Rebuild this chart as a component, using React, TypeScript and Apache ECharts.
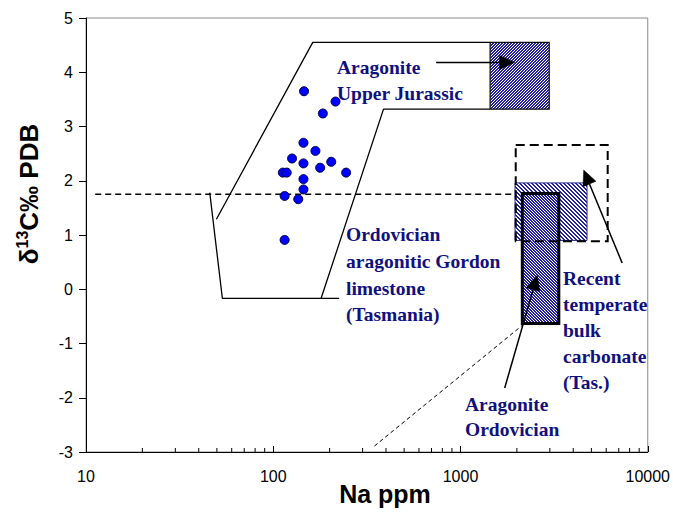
import React, { useEffect, useRef } from 'react';
import * as echarts from 'echarts';

// ---- data ----
const X_TICK_LABELS = ['10', '100', '1000', '10000'];
const MINOR_TICKS = [20, 30, 40, 50, 60, 70, 80, 90, 200, 300, 400, 500, 600, 700, 800, 900, 2000, 3000, 4000, 5000, 6000, 7000, 8000, 9000];
const Y_TICKS = [-3, -2, -1, 0, 1, 2, 3, 4, 5];

const SAMPLES: [number, number][] = [
  [146, 3.65], [184, 3.24], [215, 3.46], [145, 2.70], [168, 2.55], [126, 2.41],
  [145, 2.32], [178, 2.24], [204, 2.35], [245, 2.15], [112.5, 2.15], [118, 2.15],
  [145, 2.03], [145, 1.84], [115, 1.72], [136, 1.66], [115, 0.91],
];

const GORDON_UPPER: [number, number][] = [[49.7, 1.29], [162.5, 4.55], [1439, 4.55]];
const GORDON_RIGHT: [number, number][] = [[1439, 3.32], [388, 3.32], [180, -0.17]];
const GORDON_LEFT: [number, number][] = [[45.8, 1.78], [53.5, -0.17], [225, -0.17]];
const REF_LINE: [number, number][] = [[11.2, 1.75], [1932, 1.75]];
const TREND_LINE: [number, number][] = [[347, -2.89], [2163, -0.651]];

const JURASSIC_BOX = [1439, 3.32, 2978, 4.55];
const RECENT_BOX = [1955, 0.90, 4740, 1.96];
const ORDOVICIAN_BOX = [2138, -0.633, 3350, 1.766];
const RECENT_RANGE_BOX = [1972, 0.886, 6110, 2.66];

const ARROWS = [
  [741, 4.18, 1945, 4.18],
  [7300, 0.485, 4550, 2.196],
  [1722, -1.82, 2570, 0.258],
];

function makePattern(size: number, fg: string, bg: string, test: (x: number, y: number) => boolean) {
  const c = document.createElement('canvas');
  c.width = size;
  c.height = size;
  const ctx = c.getContext('2d')!;
  ctx.fillStyle = bg;
  ctx.fillRect(0, 0, size, size);
  ctx.fillStyle = fg;
  for (let x = 0; x < size; x++) {
    for (let y = 0; y < size; y++) {
      if (test(x, y)) ctx.fillRect(x, y, 1, 1);
    }
  }
  return { image: c.toDataURL(), repeat: 'repeat', imageWidth: size, imageHeight: size } as any;
}

function rectSeries(box: number[], style: any, z: number) {
  return {
    type: 'custom',
    clip: true,
    silent: true,
    z,
    data: [box],
    renderItem: (_p: any, api: any) => {
      const a = api.coord([api.value(0), api.value(1)]);
      const b = api.coord([api.value(2), api.value(3)]);
      return {
        type: 'rect',
        shape: {
          x: Math.min(a[0], b[0]),
          y: Math.min(a[1], b[1]),
          width: Math.abs(b[0] - a[0]),
          height: Math.abs(b[1] - a[1]),
        },
        style,
      };
    },
  };
}

function lineSeries(data: [number, number][], width: number, type: any, z: number) {
  return {
    type: 'line',
    data,
    symbol: 'none',
    showSymbol: false,
    silent: true,
    z,
    lineStyle: { color: '#000', width, type },
  };
}

const App: React.FC = () => {
  const ref = useRef<HTMLDivElement>(null);

  useEffect(() => {
    if (!ref.current) return;
    const chart = echarts.init(ref.current, null, { renderer: 'svg' });

    const blue = '#24249e';
    const jurassicFill = makePattern(3, blue, '#ffffff', (x, y) => (x + y) % 3 !== 0);
    const recentFill = makePattern(4, blue, '#ffffff', (x, y) => (x - y + 8) % 4 < 2);
    const ordoFill = makePattern(3, blue, '#ffffff', (x, y) => (x - y + 6) % 3 !== 0);

    const labelFont = 'bold 19.5px "Liberation Serif", "Times New Roman", serif';
    const labelColor = '#10107e';
    const sans = '"Liberation Sans", Arial, sans-serif';

    chart.setOption({
      animation: false,
      backgroundColor: '#ffffff',
      grid: {
        left: 86, right: 24, top: 18, bottom: 61,
        show: true, borderColor: '#8a8a8a', borderWidth: 1, backgroundColor: 'transparent',
      },
      xAxis: {
        type: 'log',
        logBase: 10,
        min: 10,
        max: 10000,
        axisLine: { show: true, onZero: false, lineStyle: { color: '#000', width: 1 } },
        axisTick: { show: true, inside: true, length: 6, lineStyle: { color: '#000' } },
        splitLine: { show: false },
        axisLabel: {
          margin: 16,
          color: '#000',
          fontSize: 16,
          fontFamily: sans,
          formatter: (v: number) => {
            const i = Math.round(Math.log10(v)) - 1;
            return X_TICK_LABELS[i] ?? '';
          },
        },
      },
      yAxis: {
        type: 'value',
        min: Y_TICKS[0],
        max: Y_TICKS[Y_TICKS.length - 1],
        interval: 1,
        axisLine: { show: true, onZero: false, lineStyle: { color: '#000', width: 1 } },
        axisTick: { show: true, inside: false, length: 7, lineStyle: { color: '#000' } },
        splitLine: { show: false },
        axisLabel: {
          margin: 13,
          color: '#000',
          fontSize: 16,
          fontFamily: sans,
        },
      },
      series: [
        {
          type: 'custom',
          silent: true,
          z: 3,
          data: MINOR_TICKS.map((v) => [v]),
          renderItem: (_p: any, api: any) => {
            const p = api.coord([api.value(0), Y_TICKS[0]]);
            return {
              type: 'line',
              shape: { x1: p[0], y1: p[1], x2: p[0], y2: p[1] - 4 },
              style: { stroke: '#000', lineWidth: 1 },
            };
          },
        },
        lineSeries(REF_LINE, 1.5, [6, 4], 2),
        lineSeries(TREND_LINE, 1, [4, 3], 2),
        lineSeries(GORDON_UPPER, 1.3, 'solid', 2),
        lineSeries(GORDON_RIGHT, 1.3, 'solid', 2),
        lineSeries(GORDON_LEFT, 1.3, 'solid', 2),
        rectSeries(JURASSIC_BOX, { fill: jurassicFill, stroke: '#111', lineWidth: 1.2 }, 4),
        rectSeries(RECENT_BOX, { fill: recentFill, stroke: '#2a2a8a', lineWidth: 1 }, 4),
        rectSeries(ORDOVICIAN_BOX, { fill: ordoFill, stroke: '#000', lineWidth: 3 }, 5),
        rectSeries(RECENT_RANGE_BOX, { fill: 'none', stroke: '#000', lineWidth: 2, lineDash: [9, 5] }, 6),
        {
          type: 'custom',
          silent: true,
          z: 7,
          data: ARROWS,
          renderItem: (_p: any, api: any) => {
            const a = api.coord([api.value(0), api.value(1)]);
            const b = api.coord([api.value(2), api.value(3)]);
            const dx = b[0] - a[0];
            const dy = b[1] - a[1];
            const len = Math.sqrt(dx * dx + dy * dy);
            const ux = dx / len;
            const uy = dy / len;
            const hl = 15;
            const hw = 7;
            const bx = b[0] - ux * hl;
            const by = b[1] - uy * hl;
            return {
              type: 'group',
              children: [
                {
                  type: 'line',
                  shape: { x1: a[0], y1: a[1], x2: bx, y2: by },
                  style: { stroke: '#000', lineWidth: 1.5 },
                },
                {
                  type: 'polygon',
                  shape: {
                    points: [
                      [b[0], b[1]],
                      [bx - uy * hw, by + ux * hw],
                      [bx + uy * hw, by - ux * hw],
                    ],
                  },
                  style: { fill: '#000', stroke: '#000', lineWidth: 0.5 },
                },
              ],
            };
          },
        },
        {
          type: 'scatter',
          z: 8,
          silent: true,
          symbol: 'circle',
          symbolSize: 9,
          data: SAMPLES,
          itemStyle: { color: '#0000ff', borderColor: '#000040', borderWidth: 1, opacity: 1 },
        },
      ],
      graphic: [
        {
          type: 'text', x: 337, y: 54.3, z: 10,
          style: { text: 'Aragonite\nUpper Jurassic', font: labelFont, fill: labelColor, lineHeight: 26, align: 'left', verticalAlign: 'top' },
        },
        {
          type: 'text', x: 346, y: 221.3, z: 10,
          style: { text: 'Ordovician\naragonitic Gordon\nlimestone\n(Tasmania)', font: labelFont, fill: labelColor, lineHeight: 26.7, align: 'left', verticalAlign: 'top' },
        },
        {
          type: 'text', x: 563, y: 265.3, z: 10,
          style: { text: 'Recent\ntemperate\nbulk\ncarbonate\n(Tas.)', font: labelFont, fill: labelColor, lineHeight: 26, align: 'left', verticalAlign: 'top' },
        },
        {
          type: 'text', x: 465, y: 392, z: 10,
          style: { text: 'Aragonite\nOrdovician', font: labelFont, fill: labelColor, lineHeight: 25, align: 'left', verticalAlign: 'top' },
        },
        {
          type: 'text', x: 385, y: 494, z: 10,
          style: { text: 'Na ppm', font: 'bold 25px ' + sans, fill: '#000', align: 'center', verticalAlign: 'middle' },
        },
        {
          type: 'text', x: 29, y: 194, z: 10, rotation: Math.PI / 2,
          style: {
            text: '{d|δ}{s|13}{c|C‰ PDB}',
            align: 'center',
            verticalAlign: 'middle',
            rich: {
              d: { fontSize: 26, fontWeight: 'bold', fontFamily: sans, fill: '#000', lineHeight: 30 },
              s: { fontSize: 16, fontWeight: 'bold', fontFamily: sans, fill: '#000', lineHeight: 16, verticalAlign: 'top' },
              c: { fontSize: 26, fontWeight: 'bold', fontFamily: sans, fill: '#000', lineHeight: 30 },
            },
          },
        },
      ],
    });

    return () => chart.dispose();
  }, []);

  return <div ref={ref} style={{ position: 'absolute', left: 0, top: 0, width: 673, height: 513 }} />;
};

export default App;
